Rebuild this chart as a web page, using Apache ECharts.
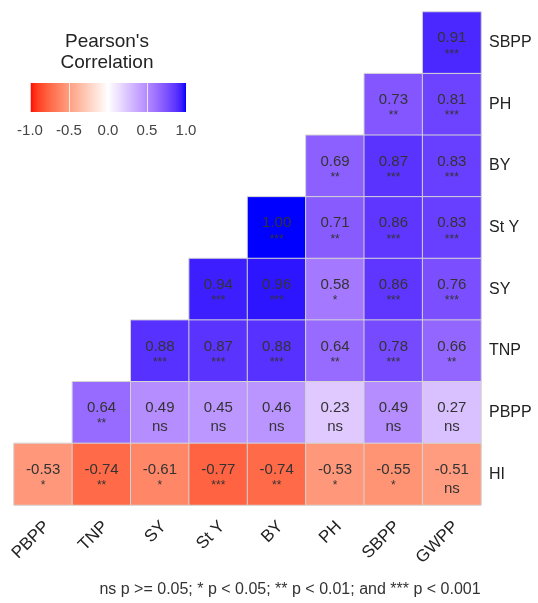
<!DOCTYPE html>
<html>
<head>
<meta charset="utf-8">
<script src="https://cdn.jsdelivr.net/npm/echarts@6/dist/echarts.min.js"></script>
<style>
html,body{margin:0;padding:0;background:#fff;}
#chart{width:538px;height:603px;}
</style>
</head>
<body>
<div id="chart"></div>
<script>
// ---- data ----
var xCategories = ['PBPP', 'TNP', 'SY', 'St Y', 'BY', 'PH', 'SBPP', 'GWPP'];
var yCategories = ['SBPP', 'PH', 'BY', 'St Y', 'SY', 'TNP', 'PBPP', 'HI']; // top to bottom
var corrSBPP = [null, null, null, null, null, null, null, 0.91];
var corrPH   = [null, null, null, null, null, null, 0.73, 0.81];
var corrBY   = [null, null, null, null, null, 0.69, 0.87, 0.83];
var corrStY  = [null, null, null, null, 1.00, 0.71, 0.86, 0.83];
var corrSY   = [null, null, null, 0.94, 0.96, 0.58, 0.86, 0.76];
var corrTNP  = [null, null, 0.88, 0.87, 0.88, 0.64, 0.78, 0.66];
var corrPBPP = [null, 0.64, 0.49, 0.45, 0.46, 0.23, 0.49, 0.27];
var corrHI   = [-0.53, -0.74, -0.61, -0.77, -0.74, -0.53, -0.55, -0.51];
var sigSBPP = [null, null, null, null, null, null, null, '***'];
var sigPH   = [null, null, null, null, null, null, '**', '***'];
var sigBY   = [null, null, null, null, null, '**', '***', '***'];
var sigStY  = [null, null, null, null, '***', '**', '***', '***'];
var sigSY   = [null, null, null, '***', '***', '*', '***', '***'];
var sigTNP  = [null, null, '***', '***', '***', '**', '***', '**'];
var sigPBPP = [null, '**', 'ns', 'ns', 'ns', 'ns', 'ns', 'ns'];
var sigHI   = ['*', '**', '*', '***', '**', '*', '*', 'ns'];
var legendTicks = [-1.0, -0.5, 0.0, 0.5, 1.0];
var legendTitle = "Pearson's\nCorrelation";
var footnote = 'ns p >= 0.05; * p < 0.05; ** p < 0.01; and *** p < 0.001';

var corrRows = [corrSBPP, corrPH, corrBY, corrStY, corrSY, corrTNP, corrPBPP, corrHI];
var sigRows = [sigSBPP, sigPH, sigBY, sigStY, sigSY, sigTNP, sigPBPP, sigHI];

// ---- Lab colour interpolation (red - white - blue) ----
function s2l(c){c/=255;return c<=0.04045?c/12.92:Math.pow((c+0.055)/1.055,2.4);}
function l2s(c){c=c<=0.0031308?12.92*c:1.055*Math.pow(c,1/2.4)-0.055;return Math.round(Math.max(0,Math.min(1,c))*255);}
function f(t){return t>0.008856?Math.cbrt(t):7.787*t+16/116;}
function fi(t){var t3=t*t*t;return t3>0.008856?t3:(t-16/116)/7.787;}
function rgb2lab(rgb){
  var r=s2l(rgb[0]),g=s2l(rgb[1]),b=s2l(rgb[2]);
  var X=(0.4124564*r+0.3575761*g+0.1804375*b)/0.95047;
  var Y=(0.2126729*r+0.7151522*g+0.0721750*b);
  var Z=(0.0193339*r+0.1191920*g+0.9503041*b)/1.08883;
  var fx=f(X),fy=f(Y),fz=f(Z);
  return [116*fy-16,500*(fx-fy),200*(fy-fz)];
}
function lab2rgb(lab){
  var fy=(lab[0]+16)/116,fx=fy+lab[1]/500,fz=fy-lab[2]/200;
  var X=0.95047*fi(fx),Y=fi(fy),Z=1.08883*fi(fz);
  var r=3.2404542*X-1.5371385*Y-0.4985314*Z;
  var g=-0.9692660*X+1.8760108*Y+0.0415560*Z;
  var b=0.0556434*X-0.2040259*Y+1.0572252*Z;
  return 'rgb('+l2s(r)+','+l2s(g)+','+l2s(b)+')';
}
var labRed=rgb2lab([255,0,0]),labWhite=rgb2lab([255,255,255]),labBlue=rgb2lab([0,0,255]);
function colorAt(v){
  var a,b,t;
  if(v<0){a=labRed;b=labWhite;t=v+1;}else{a=labWhite;b=labBlue;t=v;}
  return lab2rgb([a[0]+(b[0]-a[0])*t,a[1]+(b[1]-a[1])*t,a[2]+(b[2]-a[2])*t]);
}
var stops=[];
for(var i=0;i<=40;i++){stops.push(-1+i*0.05);}
var rampColors=stops.map(colorAt);
var gradStops=stops.map(function(v,i){return {offset:(v+1)/2,color:rampColors[i]};});

// ---- build heatmap data ----
var cells=[];
corrRows.forEach(function(row,yi){
  row.forEach(function(v,xi){
    if(v!==null){
      var s=sigRows[yi][xi];
      cells.push({value:[xi,yi,v,s],label:{offset:[0,s==='ns'?5:2]}});
    }
  });
});

var chart=echarts.init(document.getElementById('chart'));
var FONT='Liberation Sans, Arial, sans-serif';
chart.setOption({
  animation:false,
  textStyle:{fontFamily:FONT},
  grid:[
    {left:14,right:57,top:12,bottom:98},
    {left:30,top:83,width:156,height:29}
  ],
  xAxis:[
    {type:'category',data:xCategories,gridIndex:0,
     axisLine:{show:false},axisTick:{show:false},splitLine:{show:false},
     axisLabel:{rotate:45,margin:15,
       formatter:function(v){return '{a|'+v+'}';},
       rich:{a:{fontSize:17,color:'#222',padding:[11,0,0,0],fontFamily:FONT}}}},
    {type:'value',gridIndex:1,min:-1,max:1,interval:0.5,z:10,
     axisLine:{show:false},splitLine:{show:false},
     axisTick:{show:true,inside:true,length:29,lineStyle:{color:'rgba(255,255,255,0.75)',width:1}},
     axisLabel:{fontSize:15,color:'#444',margin:11,fontFamily:FONT,
       formatter:function(v){return v.toFixed(1);}}}
  ],
  yAxis:[
    {type:'category',data:yCategories,inverse:true,position:'right',gridIndex:0,
     axisLine:{show:false},axisTick:{show:false},splitLine:{show:false},
     axisLabel:{fontSize:16,color:'#222',margin:8,fontFamily:FONT}},
    {type:'category',data:['bar'],gridIndex:1,show:false}
  ],
  visualMap:{type:'continuous',show:false,min:-1,max:1,seriesIndex:0,dimension:2,
    inRange:{color:rampColors}},
  series:[
    {type:'heatmap',xAxisIndex:0,yAxisIndex:0,data:cells,
     itemStyle:{borderColor:'#d4d4d4',borderWidth:1},
     label:{show:true,
       formatter:function(p){
         var s=p.data.value[3];
         return '{v|'+p.data.value[2].toFixed(2)+'}\n'+(s==='ns'?'{n|ns}':'{s|'+s+'}');
       },
       rich:{v:{fontSize:15,lineHeight:19,color:'#333',fontFamily:FONT},
             n:{fontSize:15,lineHeight:19,color:'#333',fontFamily:FONT},
             s:{fontSize:12,lineHeight:13,color:'#333',fontFamily:FONT}}},
     emphasis:{disabled:true}},
    {type:'custom',xAxisIndex:1,yAxisIndex:1,data:[[0,0]],silent:true,
     renderItem:function(params,api){
       var p0=api.coord([-1,0]),p1=api.coord([1,0]);
       var h=api.size([0,1])[1];
       return {type:'rect',shape:{x:p0[0],y:p0[1]-h/2,width:p1[0]-p0[0],height:h},
         style:{fill:new echarts.graphic.LinearGradient(0,0,1,0,gradStops)}};
     }}
  ],
  graphic:[
    {type:'text',x:107,y:31,style:{text:legendTitle,fontSize:19,lineHeight:21,
      fill:'#222',align:'center',verticalAlign:'top',fontFamily:FONT}},
    {type:'text',x:290,y:590,style:{text:footnote,fontSize:16,fill:'#333',
      align:'center',verticalAlign:'middle',fontFamily:FONT}}
  ]
});
</script>
</body>
</html>
